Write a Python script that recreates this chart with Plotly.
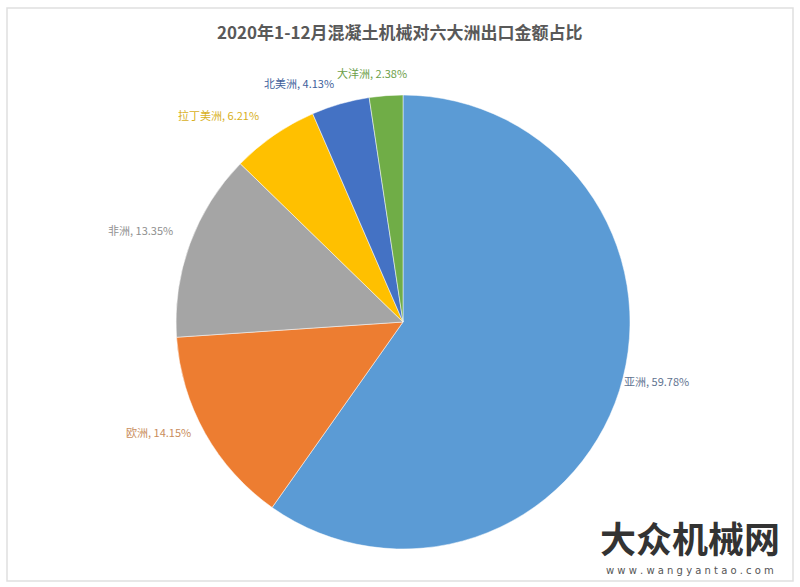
import plotly.graph_objects as go

regions = ["亚洲", "欧洲", "非洲", "拉丁美洲", "北美洲", "大洋洲"]
shares = [59.78, 14.15, 13.35, 6.21, 4.13, 2.38]
colors = ["#5B9BD5", "#ED7D31", "#A5A5A5", "#FFC000", "#4472C4", "#70AD47"]
label_colors = ["#5f7390", "#c98d5c", "#8f8f8f", "#d8b01c", "#3f5f9c", "#6c9e48"]
# label anchor positions (pixels, left edge / vertical center)
label_px = [(622, 381), (124, 432), (106, 230), (176, 115), (262, 83), (335, 73)]

W, H = 800, 587
cx, cy, r = 403, 322, 227

fig = go.Figure()
fig.add_trace(go.Pie(
    labels=regions, values=shares, sort=False, direction="clockwise", rotation=0,
    marker=dict(colors=colors, line=dict(color="white", width=0.5)),
    textinfo="none", hoverinfo="label+percent", showlegend=False,
    domain=dict(x=[(cx - r) / W, (cx + r) / W], y=[1 - (cy + r) / H, 1 - (cy - r) / H]),
))

annotations = []
for name, v, c, (px, py) in zip(regions, shares, label_colors, label_px):
    annotations.append(dict(
        x=px / W, y=1 - py / H, xref="paper", yref="paper",
        xanchor="left", yanchor="middle", showarrow=False,
        text=f"{name}, {v:.2f}%",
        font=dict(family="Noto Sans CJK SC", size=11, color=c),
    ))

annotations.append(dict(
    x=400 / W, y=1 - 31 / H, xref="paper", yref="paper", showarrow=False,
    xanchor="center", yanchor="middle",
    text="<b>2020年1-12月混凝土机械对六大洲出口金额占比</b>",
    font=dict(family="Noto Sans CJK SC", size=17, color="#595959"),
))
annotations.append(dict(
    x=690 / W, y=1 - 537 / H, xref="paper", yref="paper", showarrow=False,
    xanchor="center", yanchor="middle", text="<b>大众机械网</b>",
    font=dict(family="Noto Sans CJK SC", size=36, color="#333333"),
))
annotations.append(dict(
    x=690 / W, y=1 - 570 / H, xref="paper", yref="paper", showarrow=False,
    xanchor="center", yanchor="middle", text="w w w . w a n g y a n t a o . c o m",
    font=dict(family="DejaVu Sans", size=10, color="#555555"),
))

fig.update_layout(
    width=W, height=H, margin=dict(l=0, r=0, t=0, b=0),
    paper_bgcolor="white", plot_bgcolor="white",
    annotations=annotations,
    shapes=[dict(type="rect", xref="paper", yref="paper",
                 x0=7 / W, x1=793 / W, y0=1 - 581 / H, y1=1 - 8 / H,
                 line=dict(color="#e0e0e0", width=1.5))],
)

fig.write_html("out.html")
